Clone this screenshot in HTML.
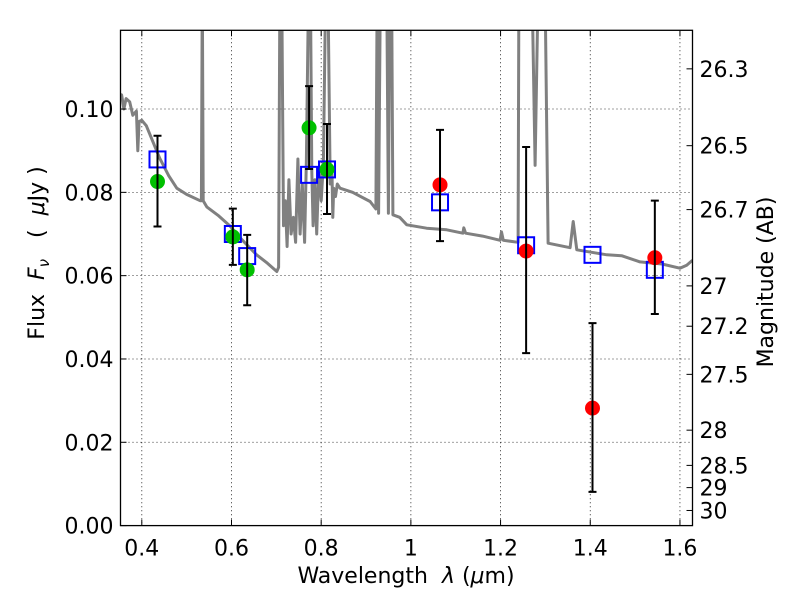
<!DOCTYPE html>
<html><head><meta charset="utf-8"><style>
body{margin:0;background:#fff}
svg{display:block;font-family:"DejaVu Sans","Liberation Sans",sans-serif}
</style></head><body>
<svg id="chart" width="800" height="600" viewBox="0 0 800 600" xmlns="http://www.w3.org/2000/svg">
<rect width="800" height="600" fill="#fff"/>
<defs><clipPath id="clip"><rect x="120.5" y="30.3" width="572" height="495.3"/></clipPath></defs>
<g id="grid"></g>
<g id="spec" clip-path="url(#clip)"></g>
<g id="marks"></g>
<rect x="120.5" y="30.3" width="572" height="495.3" fill="none" stroke="#000" stroke-width="1.3"/>
<g id="axes"></g>
<text x="406" y="583" font-size="22" text-anchor="middle" xml:space="preserve">Wavelength  <tspan font-style="italic">λ</tspan> (<tspan font-style="italic">μ</tspan>m)</text>
<text transform="translate(44,253) rotate(-90)" font-size="22" text-anchor="middle" xml:space="preserve">Flux  <tspan font-style="italic">F</tspan><tspan font-style="italic" font-size="15" dy="5">ν</tspan><tspan dy="-5">   (  </tspan><tspan font-style="italic">μ</tspan>Jy )</text>
<text transform="translate(773,282) rotate(-90)" font-size="22" text-anchor="middle">Magnitude (AB)</text>
</svg>
<script>
const xTicks=[0.4,0.6,0.8,1.0,1.2,1.4,1.6];
const xTickLabels=["0.4","0.6","0.8","1","1.2","1.4","1.6"];
const yTicks=[0,0.02,0.04,0.06,0.08,0.10];
const yTickLabels=["0.00","0.02","0.04","0.06","0.08","0.10"];
const magTicks=[26.3,26.5,26.7,27,27.2,27.5,28,28.5,29,30];
const magTickLabels=["26.3","26.5","26.7","27","27.2","27.5","28","28.5","29","30"];
const specLambda=[0.352,0.355,0.36,0.365,0.373,0.38,0.388,0.391,0.394,0.4,0.41,0.44,0.46,0.478,0.5,0.53,0.533,0.535,0.537,0.545,0.57,0.596,0.62,0.656,0.68,0.701,0.705,0.708,0.712,0.716,0.72,0.724,0.728,0.733,0.738,0.743,0.748,0.753,0.758,0.763,0.767,0.772,0.776,0.779,0.782,0.786,0.79,0.795,0.8,0.805,0.81,0.815,0.82,0.824,0.826,0.828,0.832,0.836,0.842,0.87,0.909,0.922,0.925,0.928,0.932,0.946,0.95,0.953,0.957,0.96,0.975,0.991,1.035,1.08,1.116,1.118,1.122,1.16,1.199,1.202,1.206,1.239,1.241,1.25,1.262,1.27,1.277,1.284,1.292,1.299,1.306,1.355,1.362,1.37,1.437,1.47,1.511,1.56,1.6,1.615,1.628];
const specFlux=[0.103,0.1034,0.100,0.1025,0.1017,0.0985,0.0995,0.090,0.097,0.0973,0.096,0.0882,0.084,0.081,0.0795,0.078,0.078,0.13,0.078,0.0765,0.0745,0.072,0.069,0.065,0.063,0.061,0.062,0.13,0.13,0.072,0.078,0.067,0.083,0.070,0.074,0.068,0.088,0.07,0.082,0.068,0.088,0.13,0.13,0.085,0.072,0.083,0.07,0.086,0.078,0.087,0.13,0.13,0.082,0.086,0.074,0.081,0.079,0.082,0.081,0.080,0.0778,0.076,0.13,0.075,0.13,0.13,0.075,0.13,0.13,0.0746,0.074,0.0722,0.0714,0.071,0.0702,0.0715,0.0702,0.0695,0.0685,0.0705,0.0685,0.068,0.13,0.13,0.13,0.13,0.0865,0.13,0.13,0.13,0.0678,0.0667,0.073,0.0662,0.065,0.0648,0.0633,0.0628,0.0618,0.0625,0.0637];
const photLambda=[0.435,0.603,0.635,0.773,0.813,1.065,1.257,1.405,1.544];
const photFlux=[0.0826,0.0693,0.0614,0.0955,0.0855,0.0818,0.0659,0.0282,0.0643];
const photErrHi=[0.0936,0.0761,0.0698,0.1055,0.0964,0.0950,0.0909,0.0486,0.0780];
const photErrLo=[0.0718,0.0626,0.0529,0.0856,0.0748,0.0683,0.0414,0.0081,0.0508];
const modelFlux=[0.0879,0.0700,0.0647,0.0842,0.0855,0.0776,0.0673,0.0650,0.0614];
const photColor=["#00c000","#00c000","#00c000","#00c000","#00c000","#ff0000","#ff0000","#ff0000","#ff0000"];

const L=120.5,R=692.5,T=30.3,B=525.6,XMIN=0.3525,XMAX=1.628,YMIN=0,YMAX=0.1189;
const sx=v=>L+(v-XMIN)/(XMAX-XMIN)*(R-L);
const sy=v=>B-(v-YMIN)/(YMAX-YMIN)*(B-T);
const NS="http://www.w3.org/2000/svg";
function mk(tag,attrs,parent){const e=document.createElementNS(NS,tag);for(const k in attrs)e.setAttribute(k,attrs[k]);parent.appendChild(e);return e;}
const grid=document.getElementById('grid'),axes=document.getElementById('axes'),spec=document.getElementById('spec'),marks=document.getElementById('marks');

xTicks.forEach((t,i)=>{const x=sx(t);
 const g=mk('line',{x1:x,x2:x,y1:T,y2:B,stroke:'#000','stroke-width':0.8,'stroke-dasharray':'1,3'},grid);
 
 const tk=mk('line',{x1:x,x2:x,y1:B,y2:B-6,stroke:'#000'},axes);
 
 const tk2=mk('line',{x1:x,x2:x,y1:T,y2:T+6,stroke:'#000'},axes);
 
 const tx=mk('text',{x:x,y:B+30,'font-size':22,'text-anchor':'middle'},axes);tx.textContent=xTickLabels[i];
 
});
yTicks.forEach((t,i)=>{const y=sy(t);
 const g=mk('line',{x1:L,x2:R,y1:y,y2:y,stroke:'#000','stroke-width':0.8,'stroke-dasharray':'1,3'},grid);
 
 const tk=mk('line',{x1:L,x2:L+6,y1:y,y2:y,stroke:'#000'},axes);
 
 const tx=mk('text',{x:L-7,y:y+8,'font-size':22,'text-anchor':'end'},axes);tx.textContent=yTickLabels[i];
 
});
magTicks.forEach((m,i)=>{const f=Math.pow(10,(23.9-m)/2.5);const y=sy(f);
 const tk=mk('line',{x1:R-6,x2:R,y1:y,y2:y,stroke:'#000'},axes);
 
 const tx=mk('text',{x:R+7,y:y+8,'font-size':22},axes);tx.textContent=magTickLabels[i];
 
});
const pts=specLambda.map((l,i)=>sx(l).toFixed(1)+','+sy(specFlux[i]).toFixed(1)).join(' ');
const pl=mk('polyline',{points:pts,fill:'none',stroke:'#808080','stroke-width':3,'stroke-linejoin':'round'},spec);


photLambda.forEach((l,i)=>{const x=sx(l);
 const sq=mk('rect',{x:x-8,y:sy(modelFlux[i])-8,width:16,height:16,fill:'none',stroke:'#0000ff','stroke-width':2},marks);
 
});
photLambda.forEach((l,i)=>{const x=sx(l);
 const c=mk('circle',{cx:x,cy:sy(photFlux[i]),r:7.5,fill:photColor[i]},marks);
 
});
photLambda.forEach((l,i)=>{const x=sx(l),y1=sy(photErrHi[i]),y2=sy(photErrLo[i]);
 const e=mk('path',{d:`M${x},${y1}V${y2}M${x-4},${y1}H${x+4}M${x-4},${y2}H${x+4}`,stroke:'#000','stroke-width':2,fill:'none'},marks);
 
});
</script>
</body></html>
